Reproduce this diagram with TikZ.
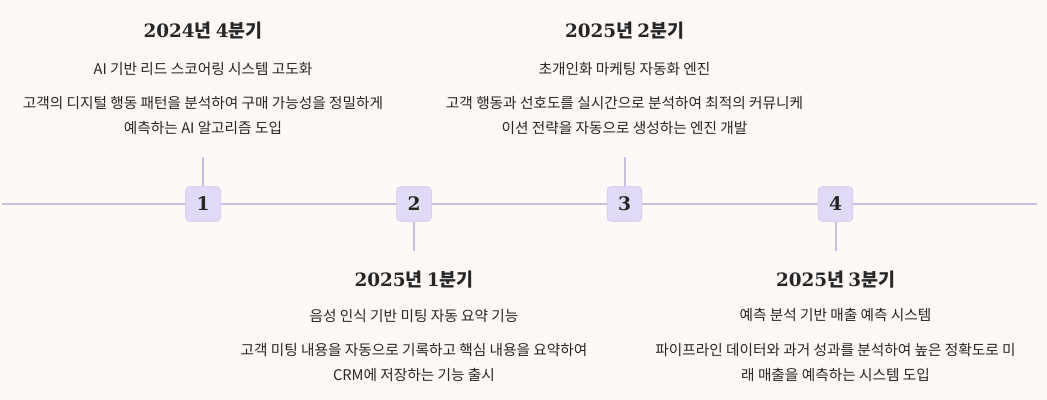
\documentclass[tikz,border=0pt]{standalone}
\usepackage{fontspec}
\setmainfont{Noto Sans CJK KR}
\newfontfamily\numeros{DejaVu Serif}
\usepackage{xcolor}
\definecolor{fondo}{HTML}{FDF9F6}
\definecolor{linea}{HTML}{C9C0E0}
\definecolor{caja}{HTML}{E1DAF6}
\definecolor{bordecaja}{HTML}{CDC2EB}
\definecolor{tinta}{HTML}{262626}
\usepackage{tikz}
\usetikzlibrary{positioning}
\newcommand{\trimestre}[2]{{\numeros\bfseries #1}{\bfseries 년} {\numeros\bfseries #2}{\bfseries 분기}}
\tikzset{
  hito/.style={draw=bordecaja, fill=caja, rounded corners=3pt, minimum size=26pt,
    inner sep=0pt, text=tinta, font=\numeros\bfseries\fontsize{14}{16}\selectfont},
  titulo/.style={text=tinta, font=\fontsize{13.8}{16}\selectfont},
  resumen/.style={text=tinta, font=\fontsize{11}{13}\selectfont},
  detalle/.style={text=tinta, align=center, font=\fontsize{11}{18.75}\selectfont},
  eje/.style={linea, line width=1.5pt}
}
\begin{document}
\begin{tikzpicture}[x=0.75pt, y=-0.75pt]
            % Fondo
            \fill[fondo] (0,0) rectangle (1047,400);
            \useasboundingbox (0,0) rectangle (1047,400);

            % Hitos
            \node[hito] (n1) at (203,204) {1};
            \node[hito] (n2) at (414,204) {2};
            \node[hito] (n3) at (624.5,204) {3};
            \node[hito] (n4) at (835.5,204) {4};

            % Eje de tiempo
            \coordinate (ini) at (2,204);
            \coordinate (fin) at (1037,204);
            \draw[eje] (ini) -- (n1) -- (n2) -- (n3) -- (n4) -- (fin);

            % Marcas
            \draw[eje] (n1.north) -- ++(0,-29) coordinate (m1);
            \draw[eje] (n2.south) -- ++(0,29) coordinate (m2);
            \draw[eje] (n3.north) -- ++(0,-29) coordinate (m3);
            \draw[eje] (n4.south) -- ++(0,29) coordinate (m4);

            % Hito 1
            \node[titulo] (t1) at (203,31) {\trimestre{2024}{4}};
            \node[resumen] (s1) at (203,69) {AI 기반 리드 스코어링 시스템 고도화};
            \node[detalle] (d1) at (203,115.5) {고객의 디지털 행동 패턴을 분석하여 구매 가능성을 정밀하게\\예측하는 AI 알고리즘 도입};

            % Hito 2
            \node[titulo] (t2) at (414,280) {\trimestre{2025}{1}};
            \node[resumen] (s2) at (414,316) {음성 인식 기반 미팅 자동 요약 기능};
            \node[detalle] (d2) at (414,362.5) {고객 미팅 내용을 자동으로 기록하고 핵심 내용을 요약하여\\CRM에 저장하는 기능 출시};

            % Hito 3
            \node[titulo] (t3) at (624.5,31) {\trimestre{2025}{2}};
            \node[resumen] (s3) at (624.5,69) {초개인화 마케팅 자동화 엔진};
            \node[detalle] (d3) at (624.5,115.5) {고객 행동과 선호도를 실시간으로 분석하여 최적의 커뮤니케\\이션 전략을 자동으로 생성하는 엔진 개발};

            % Hito 4
            \node[titulo] (t4) at (835.5,280) {\trimestre{2025}{3}};
            \node[resumen] (s4) at (835.5,315) {예측 분석 기반 매출 예측 시스템};
            \node[detalle] (d4) at (835.5,362.5) {파이프라인 데이터와 과거 성과를 분석하여 높은 정확도로 미\\래 매출을 예측하는 시스템 도입};
\end{tikzpicture}
\end{document}
